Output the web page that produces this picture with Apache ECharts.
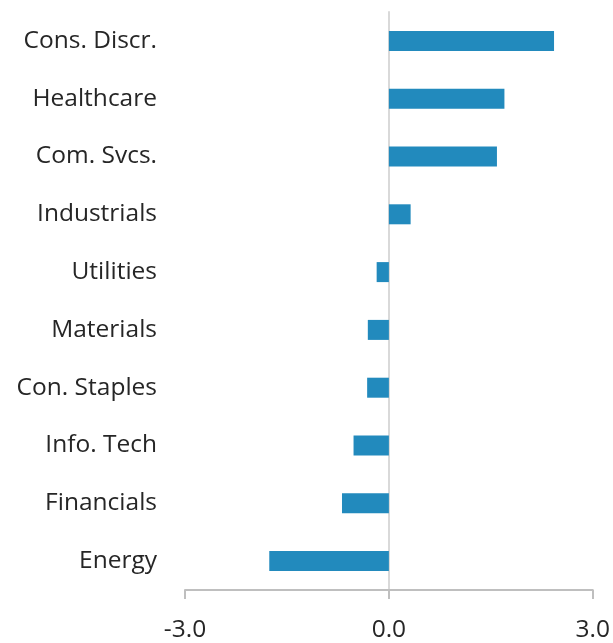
<!DOCTYPE html>
<html>
<head>
<meta charset="utf-8">
<script src="https://cdn.jsdelivr.net/npm/echarts@6/dist/echarts.min.js"></script>
<style>
  html, body { margin: 0; padding: 0; background: #fff; }
  #chart { width: 613px; height: 643px; }
</style>
</head>
<body>
<div id="chart"></div>
<script>
// sectors, top to bottom
const sectors = ['Cons. Discr.', 'Healthcare', 'Com. Svcs.', 'Industrials', 'Utilities',
  'Materials', 'Con. Staples', 'Info. Tech', 'Financials', 'Energy'];
const values = [2.43, 1.70, 1.59, 0.32, -0.18, -0.31, -0.32, -0.52, -0.69, -1.76];
const xTicks = [-3, 0, 3];

const font = '"Open Sans", "Noto Sans", sans-serif';
const chart = echarts.init(document.getElementById('chart'));

chart.setOption({
  animation: false,
  grid: { left: 185, right: 20, top: 12, bottom: 50, containLabel: false },
  xAxis: {
    type: 'value',
    min: xTicks[0],
    max: xTicks[xTicks.length - 1],
    interval: 3,
    axisLine: { show: true, lineStyle: { color: '#bfbfbf', width: 2 } },
    axisTick: { show: true, length: 9, lineStyle: { color: '#bfbfbf', width: 2 } },
    splitLine: { show: false },
    axisLabel: {
      color: '#262626', fontFamily: font, fontSize: 24.5, margin: 28,
      formatter: v => v.toFixed(1)
    }
  },
  yAxis: {
    type: 'category',
    data: sectors,
    inverse: true,
    axisLine: { show: true, onZero: true, lineStyle: { color: '#d9d9d9', width: 2 } },
    axisTick: { show: false },
    axisLabel: { color: '#262626', fontFamily: font, fontSize: 24.5, margin: 28 }
  },
  series: [{
    type: 'bar',
    data: values,
    barWidth: 20,
    itemStyle: { color: '#228abd' }
  }]
});
</script>
</body>
</html>
